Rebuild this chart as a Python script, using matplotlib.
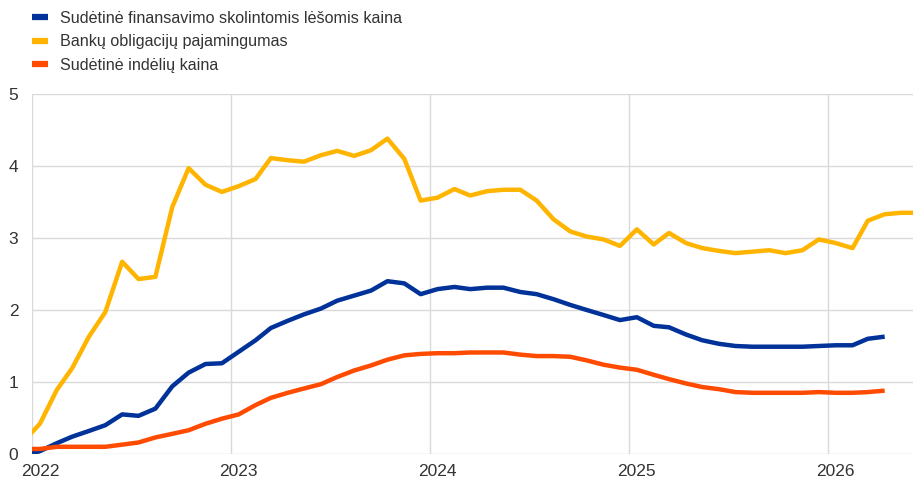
import matplotlib
matplotlib.use("Agg")
import matplotlib.pyplot as plt
import matplotlib.dates as mdates
import numpy as np
import pandas as pd

plt.rcParams['font.family'] = ['Liberation Sans', 'DejaVu Sans']

# monthly observations, Dec 2021 - Jun 2026 (plotted mid-month)
months = pd.date_range('2021-12-01', periods=55, freq='MS') + pd.Timedelta(days=14)

labels = ["Sudėtinė finansavimo skolintomis lėšomis kaina",
          "Bankų obligacijų pajamingumas",
          "Sudėtinė indėlių kaina"]

funding_cost = [-0.03,
                0.04, 0.15, 0.24, 0.32, 0.40, 0.55, 0.53, 0.63, 0.94, 1.13, 1.25, 1.26,
                1.42, 1.58, 1.75, 1.85, 1.94, 2.02, 2.13, 2.20, 2.27, 2.40, 2.37, 2.22,
                2.29, 2.32, 2.29, 2.31, 2.31, 2.25, 2.22, 2.15, 2.07, 2.00, 1.93, 1.86,
                1.90, 1.78, 1.76, 1.66, 1.58, 1.53, 1.50, 1.49, 1.49, 1.49, 1.49, 1.50,
                1.51, 1.51, 1.60, 1.63, np.nan, np.nan]

bond_yield = [0.17,
              0.42, 0.89, 1.19, 1.63, 1.97, 2.67, 2.43, 2.46, 3.43, 3.97, 3.74, 3.64,
              3.72, 3.82, 4.11, 4.08, 4.06, 4.15, 4.21, 4.14, 4.22, 4.38, 4.10, 3.52,
              3.56, 3.68, 3.59, 3.65, 3.67, 3.67, 3.52, 3.26, 3.09, 3.02, 2.98, 2.89,
              3.12, 2.91, 3.07, 2.93, 2.86, 2.82, 2.79, 2.81, 2.83, 2.79, 2.83, 2.98,
              2.93, 2.86, 3.24, 3.33, 3.35, 3.35]

deposit_cost = [0.07,
                0.07, 0.10, 0.10, 0.10, 0.10, 0.13, 0.16, 0.23, 0.28, 0.33, 0.42, 0.49,
                0.55, 0.68, 0.78, 0.85, 0.91, 0.97, 1.07, 1.16, 1.23, 1.31, 1.37, 1.39,
                1.40, 1.40, 1.41, 1.41, 1.41, 1.38, 1.36, 1.36, 1.35, 1.30, 1.24, 1.20,
                1.17, 1.10, 1.04, 0.98, 0.93, 0.90, 0.86, 0.85, 0.85, 0.85, 0.85, 0.86,
                0.85, 0.85, 0.86, 0.88, np.nan, np.nan]

colors = ['#003299', '#FFB400', '#FF4B00']

fig = plt.figure(figsize=(9.14, 4.79), dpi=100)
ax = fig.add_axes([32.3/914, 1-454/479, (913-32.3)/914, (454-94)/479])

for vals, c, lab in zip([funding_cost, bond_yield, deposit_cost], colors, labels):
    ax.plot(months, vals, color=c, lw=3.2, label=lab, solid_capstyle='butt')

ax.set_ylim(0, 5)
ax.set_xlim(pd.Timestamp('2022-01-01'), pd.Timestamp('2026-06-06'))
ax.set_yticks(range(0, 6))

ax.xaxis.set_major_locator(mdates.YearLocator())
ax.xaxis.set_major_formatter(plt.NullFormatter())
ax.xaxis.set_minor_locator(mdates.YearLocator(month=1, day=15))
ax.xaxis.set_minor_formatter(mdates.DateFormatter('%Y'))

ax.grid(True, which='major', color='#d9d9d9', lw=1)
ax.set_axisbelow(True)
for s in ax.spines.values():
    s.set_visible(False)
ax.tick_params(axis='both', which='both', length=0, labelsize=12.5, colors='#333333')
ax.tick_params(axis='y', pad=10)
ax.tick_params(axis='x', which='minor', pad=7)

leg = fig.legend(loc='upper left', bbox_to_anchor=(32/914, 1-11/479), frameon=False,
                 fontsize=11.6, handlelength=1.0, handletextpad=0.75,
                 labelspacing=0.52, borderpad=0, borderaxespad=0)
for h in leg.get_lines():
    h.set_linewidth(4.5)
for t in leg.get_texts():
    t.set_color('#333333')

fig.savefig('out.png', dpi=100)
